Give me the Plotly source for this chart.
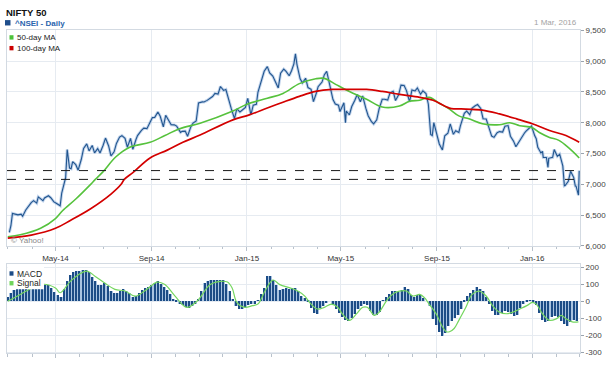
import pandas as pd
import plotly.graph_objects as go

# ---------------- data ----------------
price_dates = [
    "2014-03-03","2014-03-05","2014-03-07","2014-03-11","2014-03-14","2014-03-18","2014-03-20","2014-03-24",
    "2014-03-27","2014-03-31","2014-04-03","2014-04-07","2014-04-09","2014-04-11","2014-04-15","2014-04-17",
    "2014-04-22","2014-04-25","2014-04-29","2014-05-02","2014-05-07","2014-05-09","2014-05-12","2014-05-14",
    "2014-05-16","2014-05-19","2014-05-21","2014-05-23","2014-05-27","2014-05-30","2014-06-03","2014-06-06",
    "2014-06-10","2014-06-13","2014-06-17","2014-06-20","2014-06-24","2014-06-27","2014-07-01","2014-07-04",
    "2014-07-08","2014-07-11","2014-07-15","2014-07-18","2014-07-22","2014-07-25","2014-07-29","2014-08-01",
    "2014-08-05","2014-08-08","2014-08-12","2014-08-14","2014-08-19","2014-08-22","2014-08-26","2014-08-28",
    "2014-09-02","2014-09-05","2014-09-09","2014-09-12","2014-09-16","2014-09-19","2014-09-23","2014-09-26",
    "2014-09-30","2014-10-03","2014-10-08","2014-10-10","2014-10-14","2014-10-17","2014-10-21","2014-10-24",
    "2014-10-28","2014-10-31","2014-11-05","2014-11-07","2014-11-11","2014-11-14","2014-11-18","2014-11-21",
    "2014-11-25","2014-11-28","2014-12-02","2014-12-05","2014-12-09","2014-12-12","2014-12-16","2014-12-19",
    "2014-12-23","2014-12-26","2014-12-30","2015-01-02","2015-01-06","2015-01-09","2015-01-13","2015-01-15",
    "2015-01-20","2015-01-23","2015-01-27","2015-01-30","2015-02-03","2015-02-06","2015-02-10","2015-02-13",
    "2015-02-17","2015-02-20","2015-02-24","2015-02-27","2015-03-02","2015-03-04","2015-03-06","2015-03-10",
    "2015-03-13","2015-03-17","2015-03-20","2015-03-24","2015-03-27","2015-03-31","2015-04-02","2015-04-07",
    "2015-04-10","2015-04-13","2015-04-17","2015-04-21","2015-04-24","2015-04-28","2015-04-30","2015-05-05",
    "2015-05-07","2015-05-08","2015-05-12","2015-05-15","2015-05-19","2015-05-22","2015-05-26","2015-05-29",
    "2015-06-02","2015-06-05","2015-06-09","2015-06-12","2015-06-16","2015-06-19","2015-06-23","2015-06-26",
    "2015-06-30","2015-07-03","2015-07-07","2015-07-10","2015-07-14","2015-07-17","2015-07-21","2015-07-24",
    "2015-07-28","2015-07-31","2015-08-04","2015-08-07","2015-08-11","2015-08-14","2015-08-18","2015-08-21",
    "2015-08-24","2015-08-26","2015-08-28","2015-09-01","2015-09-04","2015-09-08","2015-09-11","2015-09-15",
    "2015-09-18","2015-09-22","2015-09-25","2015-09-29","2015-10-01","2015-10-06","2015-10-09","2015-10-13",
    "2015-10-16","2015-10-20","2015-10-23","2015-10-27","2015-10-30","2015-11-03","2015-11-06","2015-11-10",
    "2015-11-13","2015-11-17","2015-11-20","2015-11-24","2015-11-27","2015-12-01","2015-12-04","2015-12-08",
    "2015-12-11","2015-12-15","2015-12-18","2015-12-22","2015-12-24","2015-12-29","2015-12-31","2016-01-04",
    "2016-01-06","2016-01-08","2016-01-12","2016-01-14","2016-01-15","2016-01-19","2016-01-21","2016-01-22",
    "2016-01-27","2016-01-29","2016-02-02","2016-02-05","2016-02-09","2016-02-11","2016-02-12","2016-02-16",
    "2016-02-19","2016-02-23","2016-02-25","2016-02-26","2016-02-29","2016-03-01",
]
price_close = [
    6221,6328,6527,6511,6504,6516,6483,6583,
    6641,6704,6736,6695,6796,6776,6733,6779,
    6815,6782,6715,6694,6652,6859,7015,7108,
    7563,7263,7253,7367,7319,7229,7403,7583,
    7656,7542,7632,7511,7580,7508,7634,7751,
    7623,7460,7527,7664,7767,7790,7748,7602,
    7747,7569,7727,7791,7875,7913,7904,7954,
    8083,8087,8173,8105,7932,8121,8018,7968,
    7965,7945,7843,7860,7864,7780,7928,7995,
    8028,8322,8339,8337,8363,8390,8426,8477,
    8464,8588,8524,8538,8340,8224,8067,8225,
    8174,8200,8248,8395,8127,8285,8299,8494,
    8696,8836,8911,8809,8757,8661,8565,8805,
    8870,8834,8762,8845,8956,9119,8938,8712,
    8647,8723,8571,8542,8342,8491,8586,8660,
    8780,8834,8606,8377,8305,8285,8182,8324,
    8000,8191,8126,8263,8365,8458,8340,8434,
    8237,8114,8022,7982,8047,8224,8381,8381,
    8368,8485,8510,8361,8454,8609,8604,8521,
    8337,8533,8516,8564,8462,8518,8474,8300,
    7809,7791,8002,7785,7655,7558,7789,7829,
    7982,7812,7869,7843,7950,8152,8190,8132,
    8238,8275,8295,8233,8065,8060,7954,7783,
    7762,7837,7856,7849,7942,7954,7781,7701,
    7610,7700,7762,7834,7865,7928,7946,7791,
    7741,7601,7510,7536,7438,7436,7276,7422,
    7437,7564,7455,7489,7298,6976,6981,7048,
    7211,7109,6971,6970,6825,7222,
]

ma50_dates = [
    "2014-03-01","2014-03-17","2014-04-12","2014-05-01","2014-05-10","2014-05-27","2014-06-15","2014-06-21",
    "2014-07-01","2014-07-17","2014-08-04","2014-08-30","2014-09-18","2014-10-07","2014-11-02","2014-12-14",
    "2015-01-01","2015-01-27","2015-02-16","2015-03-09","2015-03-30","2015-04-10","2015-04-25","2015-05-12",
    "2015-06-03","2015-06-23","2015-07-15","2015-07-28","2015-08-10","2015-08-22","2015-09-04","2015-09-17",
    "2015-09-29","2015-10-12","2015-10-29","2015-11-20","2015-12-03","2015-12-16","2016-01-01","2016-01-10",
    "2016-01-23","2016-02-04","2016-02-17","2016-03-01",
]
ma50_values = [
    6150,6180,6286,6444,6571,6762,7000,7080,
    7206,7444,7603,7682,7793,7904,7992,8190,
    8300,8397,8476,8635,8714,8720,8619,8508,
    8381,8254,8270,8349,8365,8412,8317,8222,
    8111,8063,7984,7968,8000,7952,7920,7841,
    7762,7714,7587,7428,
]

ma100_dates = [
    "2014-03-01","2014-03-31","2014-05-01","2014-05-20","2014-06-15","2014-07-11","2014-07-24","2014-07-28",
    "2014-08-08","2014-08-30","2014-09-21","2014-10-11","2014-11-02","2014-12-14","2015-01-04","2015-01-27",
    "2015-02-16","2015-03-09","2015-03-30","2015-04-20","2015-05-12","2015-06-03","2015-06-23","2015-07-15",
    "2015-08-10","2015-08-27","2015-09-17","2015-10-08","2015-10-29","2015-11-20","2015-12-12","2016-01-01",
    "2016-01-23","2016-02-13","2016-03-01",
]
ma100_values = [
    6127,6175,6286,6413,6603,6841,7000,7080,
    7190,7428,7555,7682,7800,8047,8127,8238,
    8333,8428,8508,8540,8540,8540,8508,8460,
    8412,8365,8238,8222,8206,8143,8063,7984,
    7873,7793,7682,
]

support_levels = [7223, 7080]

# MACD histogram, one value every 4 calendar days from 2014-03-01
macd_start = "2014-03-01"
macd_hist = [
    21,47,62,70,79,84,89,94,97,99,100,99,95,95,76,50,33,20,70,119,
    150,168,176,178,180,183,168,140,118,95,93,105,85,58,43,46,60,69,59,43,
    22,31,48,65,75,84,93,106,115,101,83,66,42,11,-2,-17,-27,-37,-44,-32,
    -18,10,60,105,118,122,124,125,125,122,100,60,12,-30,-50,-50,-37,-24,-20,-17,
    3,41,78,145,148,122,93,62,72,78,72,74,78,56,30,14,-7,-42,-73,-77,
    -43,-28,-12,0,-24,-47,-72,-98,-115,-119,-104,-80,-47,-29,-18,-23,-60,-86,-85,-65,
    2,22,37,57,56,50,65,80,70,32,25,33,36,17,0,-28,-107,-145,-185,-207,
    -190,-148,-118,-102,-84,-50,-5,26,46,65,79,69,55,25,-21,-63,-83,-86,-70,-59,
    -64,-79,-88,-84,-45,-20,-6,3,-9,-24,-71,-113,-128,-118,-98,-91,-97,-117,-140,-147,
    -125,-116,-120,
]

signal_dates = [
    "2014-03-01","2014-03-17","2014-03-31","2014-04-16","2014-05-01","2014-05-07","2014-05-20","2014-05-30",
    "2014-06-10","2014-06-21","2014-07-03","2014-07-16","2014-07-29","2014-08-11","2014-08-23","2014-09-08",
    "2014-09-18","2014-10-01","2014-10-16","2014-10-29","2014-11-02","2014-11-15","2014-11-28","2014-12-07",
    "2014-12-13","2014-12-19","2014-12-29","2015-01-08","2015-01-15","2015-01-24","2015-02-03","2015-02-12",
    "2015-02-25","2015-03-07","2015-03-16","2015-03-22","2015-04-01","2015-04-10","2015-04-19","2015-04-27",
    "2015-05-03","2015-05-12","2015-05-21","2015-05-29","2015-06-04","2015-06-13","2015-06-19","2015-06-30",
    "2015-07-09","2015-07-15","2015-07-24","2015-08-01","2015-08-10","2015-08-16","2015-08-22","2015-08-31",
    "2015-09-08","2015-09-13","2015-09-17","2015-09-23","2015-09-29","2015-10-08","2015-10-16","2015-10-25",
    "2015-11-03","2015-11-11","2015-11-20","2015-11-29","2015-12-07","2015-12-16","2015-12-25","2016-01-01",
    "2016-01-06","2016-01-14","2016-01-23","2016-02-01","2016-02-07","2016-02-13","2016-02-21","2016-02-29",
]
signal_values = [
    0,40,75,100,78,50,117,155,
    178,146,107,70,60,30,60,113,
    98,30,-36,0,21,98,117,113,
    78,-7,-36,-26,-17,60,125,98,
    79,60,30,-7,-46,-36,-17,-36,
    -75,-113,-75,-36,-36,-84,-65,12,
    50,60,60,31,40,21,-17,-75,
    -151,-180,-180,-161,-113,-36,40,60,
    31,-26,-65,-74,-65,-46,-26,-7,
    -17,-74,-113,-103,-84,-103,-122,-122,
]

price_ticks = [6000, 6500, 7000, 7500, 8000, 8500, 9000, 9500]
macd_ticks = [-300, -200, -100, 0, 100, 200]
macd_tick_text = ["-300", "-200", "-100", "0", "100", "200"]

# ---------------- figure ----------------
W, H = 609, 367
def fx(p):
    return p / W
def fy(p):
    return 1 - p / H

FONT = "Liberation Sans, Arial, sans-serif"
GRID = "#e6ebf1"
FRAME = "#d3dae2"

macd_dates = pd.date_range(macd_start, periods=len(macd_hist), freq="4D")
day_ms = 86400000

fig = go.Figure()
fig.add_trace(go.Scatter(x=price_dates, y=price_close, mode="lines",
                         line=dict(color="rgba(120,160,212,0.45)", width=3),
                         hoverinfo="skip", xaxis="x", yaxis="y"))
fig.add_trace(go.Scatter(x=price_dates, y=price_close, mode="lines",
                         line=dict(color="#22568f", width=1.1), name="^NSEI",
                         xaxis="x", yaxis="y"))
fig.add_trace(go.Scatter(x=ma50_dates, y=ma50_values, mode="lines",
                         line=dict(color="#56c23d", width=1.6, shape="spline"),
                         name="50-day MA", xaxis="x", yaxis="y"))
fig.add_trace(go.Scatter(x=ma100_dates, y=ma100_values, mode="lines",
                         line=dict(color="#d30000", width=1.7, shape="spline"),
                         name="100-day MA", xaxis="x", yaxis="y"))

fig.add_trace(go.Bar(x=macd_dates, y=macd_hist, width=4 * day_ms,
                     marker=dict(color="#a9c3e0", line=dict(width=0)),
                     hoverinfo="skip", xaxis="x2", yaxis="y2"))
fig.add_trace(go.Bar(x=macd_dates, y=macd_hist, width=1.9 * day_ms,
                     marker=dict(color="#1c4c86", line=dict(width=0)),
                     name="MACD", xaxis="x2", yaxis="y2"))
fig.add_trace(go.Scatter(x=signal_dates, y=signal_values, mode="lines",
                         line=dict(color="#74d65f", width=1.2, shape="spline"),
                         name="Signal", xaxis="x2", yaxis="y2"))

shapes = []
for lv in support_levels:
    shapes.append(dict(type="line", xref="x domain", yref="y", x0=0, x1=1, y0=lv, y1=lv,
                       line=dict(color="#1a1a1a", width=1, dash="dash"), layer="above"))

def rect(x0, y0, x1, y1, color):
    return dict(type="rect", xref="paper", yref="paper", x0=fx(x0), x1=fx(x1),
                y0=fy(y1), y1=fy(y0), fillcolor=color, line=dict(width=0), layer="above")

shapes.append(rect(5, 16.5, 10.5, 22, "#1f4e8c"))
shapes.append(rect(7.5, 268, 44, 292.5, "white"))
shapes.append(rect(9.5, 32, 13.5, 36.5, "#4cc23a"))
shapes.append(rect(9.5, 43, 13.5, 47.5, "#cc0000"))
shapes.append(rect(9.5, 274, 13.5, 278.5, "#1c4c86"))
shapes.append(rect(9.5, 284, 13.5, 288.5, "#6fd45a"))

def ann(text, x, y, size=8, color="#222", xanchor="left", bold=False):
    return dict(text=("<b>%s</b>" % text) if bold else text, x=fx(x), y=fy(y),
                xref="paper", yref="paper", xanchor=xanchor, yanchor="middle",
                showarrow=False, font=dict(family=FONT, size=size, color=color))

annotations = [
    ann("NIFTY 50", 4, 9, size=9.5, color="#111", bold=True),
    ann("^NSEI - Daily", 13, 19.5, size=8, color="#2a64ad", bold=True),
    ann("1 Mar, 2016", 579, 18.5, size=8, color="#a3a3a3", xanchor="right"),
    ann("50-day MA", 15, 34.3, size=8),
    ann("100-day MA", 15, 45.3, size=8),
    ann("MACD", 14.5, 276.3, size=8.5),
    ann("Signal", 14.5, 286.5, size=8.5),
    ann("© Yahoo!", 9, 242.5, size=8, color="#8a8a8a"),
]

xdom = [fx(7), fx(580)]
xrange_ = ["2014-02-28", "2016-03-02"]
common_x = dict(type="date", range=xrange_, domain=xdom, dtick="M4", tick0="2014-01-01",
                showgrid=True, gridcolor=GRID, gridwidth=1, ticks="outside", ticklen=4,
                tickcolor="#b9c2cc", showline=True, linecolor=FRAME, mirror=True,
                minor=dict(dtick="M1", ticks="outside", ticklen=2.5, tickcolor="#b9c2cc",
                           showgrid=False),
                zeroline=False, fixedrange=True)

fig.update_layout(
    width=W, height=H, autosize=False,
    margin=dict(l=0, r=0, t=0, b=0),
    paper_bgcolor="white", plot_bgcolor="white",
    showlegend=False, barmode="overlay", bargap=0,
    font=dict(family=FONT, size=8, color="#333"),
    xaxis=dict(common_x, anchor="y", tickformat="%b-%y",
               tickfont=dict(family=FONT, size=8, color="#333")),
    xaxis2=dict(common_x, anchor="y2", matches="x", showticklabels=False),
    yaxis=dict(domain=[fy(248), fy(27)], range=[6000, 9500], side="right",
               tickvals=price_ticks, tickformat=",", showgrid=True, gridcolor=GRID,
               ticks="outside", ticklen=3, tickcolor="#9aa3ad",
               tickfont=dict(family=FONT, size=8, color="#444"),
               showline=True, linecolor=FRAME, mirror=True, zeroline=False,
               anchor="x", fixedrange=True),
    yaxis2=dict(domain=[fy(358), fy(267)], range=[-307, 217], side="right",
                tickvals=macd_ticks, ticktext=macd_tick_text, showgrid=True, gridcolor=GRID,
                ticks="outside", ticklen=3, tickcolor="#9aa3ad",
                tickfont=dict(family=FONT, size=8, color="#444"),
                showline=True, linecolor=FRAME, mirror=True, zeroline=False,
                anchor="x2", fixedrange=True),
    shapes=shapes,
    annotations=annotations,
)

fig.write_html("out.html", config={"displayModeBar": False},
               post_script="document.body.style.margin='0';document.body.style.overflow='hidden';")
